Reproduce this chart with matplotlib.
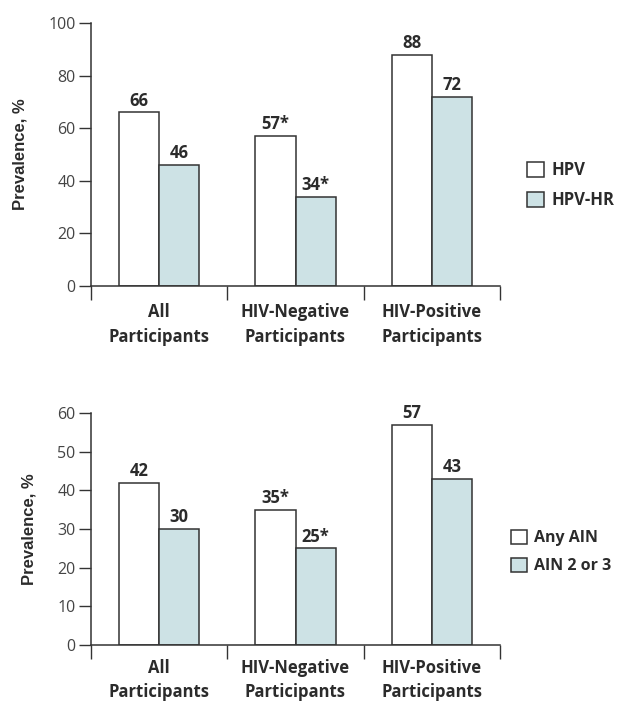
import numpy as np
import matplotlib
matplotlib.use("Agg")
from matplotlib import pyplot as plt

# data
groups = ["All\nParticipants", "HIV-Negative\nParticipants", "HIV-Positive\nParticipants"]

hpv = [66, 57, 88]
hpv_hr = [46, 34, 72]
hpv_lbl = ["66", "57*", "88"]
hpv_hr_lbl = ["46", "34*", "72"]

ain_any = [42, 35, 57]
ain_23 = [30, 25, 43]
ain_any_lbl = ["42", "35*", "57"]
ain_23_lbl = ["30", "25*", "43"]

teal = "#cde2e5"
edge = "#333333"
txt = "#2b2b2b"
font = "Open Sans"

fig = plt.figure(figsize=(6.19, 7.03), dpi=100)
ax_top = fig.add_axes([91/619, 1-286/703, 409/619, 263/703])
ax_bot = fig.add_axes([91/619, 1-645/703, 409/619, 232/703])


def draw_panel(ax, s1, s2, l1, l2, names, ymax, ystep, leg_x, leg_y, leg_size, lab_off):
    x = np.arange(len(groups))
    w = 0.295
    b1 = ax.bar(x - w/2, s1, w, color="white", edgecolor=edge, lw=1.1, label=names[0])
    b2 = ax.bar(x + w/2, s2, w, color=teal, edgecolor=edge, lw=1.1, label=names[1])
    for bars, labs in ((b1, l1), (b2, l2)):
        for r, t in zip(bars, labs):
            ax.annotate(t, (r.get_x() + r.get_width()/2, r.get_height()),
                        xytext=(0, 2), textcoords="offset points",
                        ha="center", va="bottom", fontsize=12,
                        fontweight="bold", family=font, color=txt)
    ax.set_xlim(-0.5, 2.5)
    ax.set_ylim(0, ymax)
    ax.set_yticks(np.arange(0, ymax + 1, ystep))
    ax.set_xticks([-0.5, 0.5, 1.5, 2.5])
    ax.set_xticklabels([])
    ax.tick_params(axis="x", direction="out", length=10, width=1, color=edge)
    ax.tick_params(axis="y", direction="out", length=9, width=1, color=edge,
                   labelsize=11.5, labelcolor="#444444", pad=2)
    for lab in ax.get_yticklabels():
        lab.set_family(font)
    # category names under each group, in points below the axis
    for g, name in zip(x, groups):
        ax.annotate(name, (g, 0), xycoords=("data", "axes fraction"),
                    xytext=(0, -lab_off), textcoords="offset points",
                    ha="center", va="top", fontsize=12, fontweight="bold",
                    family=font, color=txt, linespacing=1.45)
    ax.spines["top"].set_visible(False)
    ax.spines["right"].set_visible(False)
    ax.spines["left"].set_color(edge)
    ax.spines["bottom"].set_color(edge)
    ax.spines["left"].set_linewidth(1.1)
    ax.spines["bottom"].set_linewidth(1.1)
    ax.set_ylabel("Prevalence, %", fontsize=12, fontweight="bold",
                  family="Liberation Sans", color=txt, labelpad=15)
    leg = fig.legend(handles=[b1, b2], loc="center left",
                     bbox_to_anchor=(leg_x/619, leg_y), frameon=False,
                     handlelength=1.0, handleheight=1.0, handletextpad=0.45,
                     labelspacing=0.7, borderaxespad=0, borderpad=0,
                     prop={"family": font, "weight": "bold", "size": leg_size})
    for t in leg.get_texts():
        t.set_color(txt)


draw_panel(ax_top, hpv, hpv_hr, hpv_lbl, hpv_hr_lbl, ["HPV", "HPV-HR"], 100, 20,
           527, 1-185/703, 12, 12.5)
draw_panel(ax_bot, ain_any, ain_23, ain_any_lbl, ain_23_lbl, ["Any AIN", "AIN 2 or 3"], 60, 10,
           511, 1-552/703, 11.5, 10)

fig.savefig("out.png", dpi=100)
